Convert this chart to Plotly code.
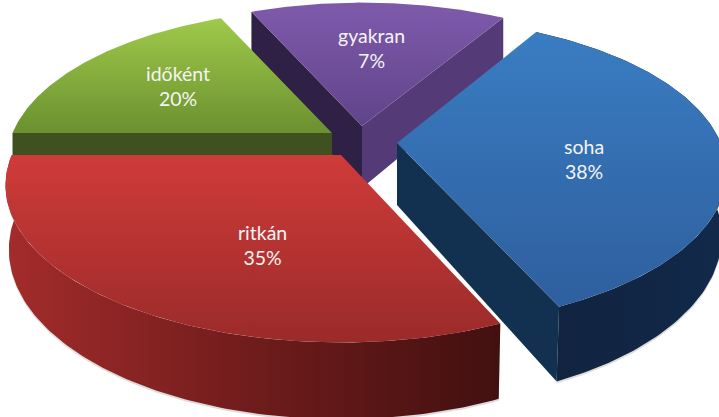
import numpy as np
import plotly.graph_objects as go

# ---- data ----
categories = ["soha", "ritkán", "időként", "gyakran"]
printed_percent = [38, 35, 20, 7]            # the numbers printed on the slices
drawn_start_deg = [30, 156.5, 270, 336]      # where each slice begins in the drawing
drawn_sweep_deg = [125.5, 113.5, 66, 55]     # the sweep each slice really has in the drawing

# ---- geometry / style (not data) ----
W, H = 719, 417
A, B, K, DEPTH = 326, 150, 0.19, 62
apex = {"soha": (397, 143), "ritkán": (341, 155), "időként": (332, 133), "gyakran": (362, 126)}
radius = {"soha": 0.993, "ritkán": 1.01, "időként": 0.98, "gyakran": 0.975}
shrink = {"soha": 0.985, "ritkán": 0.99, "időként": 1.0, "gyakran": 1.0}
top_grad = {
    "soha": ("#3a7dc2", "#2e5f9e", 30, 305),
    "ritkán": ("#cf3b39", "#9b2b2a", 155, 340),
    "időként": ("#9fca4a", "#6b9030", 18, 133),
    "gyakran": ("#7d59aa", "#5f4388", 10, 130),
}
label_pos = {"soha": (584, 159), "ritkán": (262, 245), "időként": (178, 86), "gyakran": (371, 48)}
draw_order = ["gyakran", "időként", "soha", "ritkán"]


def project(name, deg):
    t = np.radians(deg)
    r = radius[name]
    u, v = r * np.sin(t), -r * np.cos(t)
    w = 1 - K * v
    return apex[name][0] + A * u / w, apex[name][1] + B * v / w, w


def lower(name, x, y, w):
    ax = apex[name][0]
    return ax + (x - ax) * shrink[name], y + DEPTH / w


bounds = {c: (s, s + d) for c, s, d in zip(categories, drawn_start_deg, drawn_sweep_deg)}

fig = go.Figure()


def poly(xs, ys, color=None, grad=None):
    kw = dict(x=list(xs), y=list(ys), mode="lines", fill="toself", line=dict(width=0),
              hoverinfo="skip", showlegend=False)
    if grad:
        kw["fillgradient"] = grad
    else:
        kw["fillcolor"] = color
    fig.add_trace(go.Scatter(**kw))


def cut_face(name, deg, color):
    x, y, w = project(name, deg)
    xb, yb = lower(name, x, y, w)
    ax, ay = apex[name]
    axb, ayb = lower(name, ax, ay, 1)
    poly([ax, x, xb, axb, ax], [ay, y, yb, ayb, ay], color)


def outer_face(name, grad):
    d0, d1 = bounds[name]
    degs = np.linspace(d0, d1, 120)
    x, y, w = project(name, degs)
    xb, yb = lower(name, x, y, w)
    poly(np.r_[x, xb[::-1], x[0]], np.r_[y, yb[::-1], y[0]] + 2, color="#dcdcdc")
    poly(np.r_[x, xb[::-1], x[0]], np.r_[y, yb[::-1], y[0]], grad=grad)


def top_face(name):
    d0, d1 = bounds[name]
    degs = np.linspace(d0, d1, 120)
    x, y, _ = project(name, degs)
    ax, ay = apex[name]
    c0, c1, s0, s1 = top_grad[name]
    poly(np.r_[ax, x, ax], np.r_[ay, y, ay],
         grad=dict(type="vertical", colorscale=[[0, c0], [1, c1]], start=s0, stop=s1))


for name in draw_order:
    if name == "gyakran":
        cut_face(name, bounds[name][0], "#2f2046")
        cut_face(name, bounds[name][1], "#553a78")
    elif name == "időként":
        cut_face(name, bounds[name][0], "#3f5120")
    elif name == "soha":
        outer_face(name, dict(type="horizontal", colorscale=[[0, "#11233f"], [1, "#12294a"]], start=550, stop=719))
        cut_face(name, bounds[name][1], "#12304f")
    else:
        outer_face(name, dict(type="horizontal",
                              colorscale=[[0, "#a32c2b"], [0.5, "#701c1c"], [1, "#431010"]],
                              start=5, stop=495))
    top_face(name)

for c, p in zip(categories, printed_percent):
    fig.add_annotation(x=label_pos[c][0], y=label_pos[c][1], text=f"{c}<br>{p}%", showarrow=False,
                       font=dict(family="Lato, Carlito, sans-serif", size=19.5, color="#f4f4f4"),
                       align="center")

fig.update_layout(width=W, height=H, margin=dict(l=0, r=0, t=0, b=0), paper_bgcolor="white",
                  plot_bgcolor="white", showlegend=False,
                  xaxis=dict(range=[0, W], visible=False, fixedrange=True),
                  yaxis=dict(range=[H, 0], visible=False, fixedrange=True))
fig.write_html("out.html", post_script="document.body.style.margin='0';", config={"displayModeBar": False})
